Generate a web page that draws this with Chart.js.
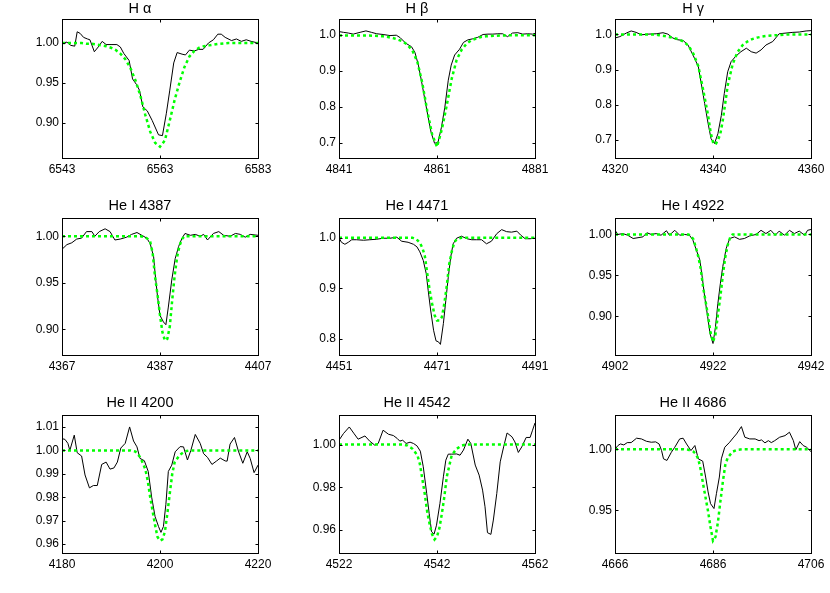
<!DOCTYPE html>
<html>
<head>
<meta charset="utf-8">
<script src="https://cdn.jsdelivr.net/npm/chart.js@4.4.1/dist/chart.umd.min.js"></script>
<style>
  body { margin: 0; background: #fff; }
  #wrap { position: relative; width: 830px; height: 593px; overflow: hidden; }
  #wrap canvas { position: absolute; }
</style>
</head>
<body>
<div id="wrap"></div>
<script>
// ---- H alpha ----
const haObsWl = [6543.0,6544.0,6544.8,6545.6,6546.1,6546.7,6547.4,6548.2,6548.7,6549.6,6550.4,6551.2,6552.0,6553.2,6554.2,6554.9,6555.6,6556.7,6557.4,6558.2,6558.8,6559.5,6560.4,6561.4,6562.7,6563.5,6564.3,6565.0,6565.8,6566.5,6567.5,6568.2,6569.0,6570.0,6570.9,6571.8,6572.9,6573.9,6574.8,6575.5,6576.3,6577.6,6578.6,6579.6,6580.6,6581.6,6583.0];
const haObsFlux = [1.000,1.001,0.997,0.996,1.014,1.012,1.007,1.005,1.004,0.989,0.995,1.002,0.998,0.998,0.998,0.995,0.987,0.978,0.955,0.948,0.941,0.920,0.915,0.903,0.885,0.884,0.912,0.941,0.975,0.988,0.986,0.985,0.991,0.990,0.992,0.992,1.000,1.004,1.011,1.011,1.007,1.003,1.005,1.002,1.004,1.002,1.000];
const haModWl = [6543,6545,6547,6548,6549,6550,6551,6552,6553,6554,6555,6556,6557,6558,6559,6560,6561,6562,6563,6564,6565,6566,6567,6568,6569,6570,6571,6572,6573,6574,6575,6577,6580,6583];
const haModFlux = [1.000,1.000,1.000,0.999,0.999,0.998,0.997,0.996,0.994,0.991,0.986,0.979,0.968,0.953,0.934,0.910,0.889,0.875,0.870,0.878,0.903,0.929,0.951,0.970,0.983,0.990,0.994,0.996,0.997,0.998,0.999,1.000,1.000,1.000];
const haXTicks = [6543, 6563, 6583];
const haYTicks = [0.90, 0.95, 1.00];
const haYRange = [0.856, 1.030];

// ---- H beta ----
const hbObsWl = [4841.0,4841.9,4842.9,4843.9,4845.3,4846.5,4847.6,4848.7,4850.0,4851.4,4852.7,4853.5,4854.6,4855.8,4856.5,4857.2,4857.8,4858.5,4859.2,4859.8,4860.5,4861.2,4861.9,4862.6,4863.3,4863.9,4864.6,4865.6,4866.4,4867.3,4868.3,4869.3,4870.4,4871.4,4872.4,4873.4,4874.4,4875.4,4876.4,4877.5,4878.5,4879.5,4880.5,4881.0];
const hbObsFlux = [1.009,1.007,1.005,1.002,1.007,1.011,1.007,1.003,1.001,0.998,0.999,0.992,0.977,0.967,0.951,0.916,0.874,0.822,0.771,0.729,0.699,0.701,0.743,0.799,0.874,0.916,0.944,0.960,0.979,0.986,0.989,0.993,1.001,1.002,1.002,1.003,1.003,0.995,1.005,1.006,1.002,1.003,1.002,1.004];
const hbModWl = [4841,4844,4847,4849,4850,4851,4852,4853,4854,4855,4856,4857,4858,4859,4860,4861,4862,4863,4864,4865,4866,4867,4868,4869,4870,4871,4872,4874,4877,4881];
const hbModFlux = [0.998,0.998,0.998,0.997,0.996,0.994,0.991,0.987,0.982,0.972,0.956,0.925,0.866,0.790,0.724,0.689,0.738,0.805,0.878,0.930,0.958,0.975,0.985,0.990,0.994,0.996,0.997,0.998,0.999,0.999];
const hbXTicks = [4841, 4861, 4881];
const hbYTicks = [0.7, 0.8, 0.9, 1.0];
const hbYRange = [0.658, 1.044];

// ---- H gamma ----
const hgObsWl = [4320.0,4321.0,4322.3,4323.3,4324.3,4325.4,4326.7,4328.4,4329.8,4330.8,4331.8,4332.8,4333.9,4334.9,4335.9,4337.0,4337.6,4338.3,4339.0,4339.6,4340.3,4341.0,4341.7,4342.3,4343.0,4343.7,4344.7,4345.7,4346.8,4347.8,4348.8,4349.8,4350.8,4352.2,4353.5,4354.9,4356.3,4357.6,4359.0,4360.0];
const hgObsFlux = [0.990,0.994,1.004,1.010,1.006,0.999,1.001,1.002,1.005,1.001,0.990,0.985,0.983,0.970,0.942,0.909,0.861,0.804,0.747,0.704,0.690,0.718,0.770,0.832,0.894,0.923,0.939,0.951,0.961,0.951,0.947,0.956,0.970,0.980,1.002,1.004,1.006,1.007,1.010,1.011];
const hgModWl = [4320,4324,4328,4329,4330,4331,4332,4333,4334,4335,4336,4337,4338,4339,4339.5,4340,4340.5,4341,4341.5,4342,4342.5,4343,4344,4345,4346,4347,4348,4349,4350,4351,4352,4353,4355,4360];
const hgModFlux = [1.000,1.000,1.000,0.998,0.996,0.993,0.990,0.986,0.980,0.968,0.945,0.910,0.842,0.770,0.723,0.694,0.687,0.700,0.718,0.756,0.805,0.855,0.915,0.950,0.969,0.980,0.987,0.991,0.994,0.996,0.997,0.998,1.000,1.000];
const hgXTicks = [4320, 4340, 4360];
const hgYTicks = [0.7, 0.8, 0.9, 1.0];
const hgYRange = [0.649, 1.044];

// ---- He I 4387 ----
const he4387ObsWl = [4367.0,4368.0,4369.0,4370.0,4371.0,4372.0,4373.1,4373.7,4374.6,4375.8,4376.8,4377.8,4378.9,4380.2,4381.2,4382.3,4383.3,4384.3,4385.0,4385.7,4386.0,4386.5,4387.0,4387.7,4388.2,4388.7,4389.4,4390.1,4390.8,4391.5,4392.1,4393.2,4394.2,4395.2,4395.9,4396.7,4397.9,4399.0,4400.0,4401.3,4402.4,4403.4,4404.4,4405.4,4407.0];
const he4387ObsFlux = [0.986,0.991,0.993,0.997,0.998,1.005,1.005,1.000,1.005,1.008,1.005,0.996,0.997,0.999,1.002,1.004,1.001,0.998,0.992,0.978,0.960,0.935,0.915,0.908,0.905,0.924,0.953,0.976,0.989,0.998,1.003,1.001,1.002,1.000,1.002,0.996,1.003,1.005,1.001,1.000,1.003,1.002,0.999,1.002,1.001];
const he4387ModWl = [4367,4375,4383,4384,4384.5,4385,4385.5,4386,4386.5,4387,4387.5,4388,4388.5,4389,4389.5,4390,4390.5,4391,4391.5,4392,4400,4407];
const he4387ModFlux = [1.000,1.000,1.000,0.999,0.997,0.994,0.982,0.956,0.937,0.915,0.897,0.888,0.890,0.903,0.932,0.958,0.978,0.990,0.997,1.000,1.000,1.000];
const he4387XTicks = [4367, 4387, 4407];
const he4387YTicks = [0.90, 0.95, 1.00];
const he4387YRange = [0.8725, 1.0196];

// ---- He I 4471 ----
const he4471ObsWl = [4451.0,4451.5,4452.2,4452.9,4453.6,4454.6,4456.0,4457.3,4458.7,4460.0,4461.4,4462.8,4463.8,4465.1,4466.2,4466.9,4467.5,4468.2,4468.8,4469.2,4469.7,4470.3,4470.8,4471.3,4471.7,4472.3,4472.8,4473.3,4473.8,4474.3,4475.0,4476.0,4477.1,4478.1,4479.1,4480.1,4481.1,4482.1,4483.2,4484.2,4485.2,4486.2,4487.3,4488.1,4489.0,4490.0,4491.0];
const he4471ObsFlux = [1.000,0.991,0.987,0.991,0.996,0.996,0.995,0.996,0.997,0.999,0.999,1.001,0.993,0.991,0.987,0.982,0.972,0.955,0.929,0.896,0.857,0.817,0.796,0.794,0.789,0.830,0.876,0.922,0.962,0.988,0.999,1.003,0.998,0.996,0.996,0.996,0.988,0.993,1.008,1.016,1.012,1.011,1.013,1.005,0.998,0.998,0.999];
const he4471ModWl = [4451,4460,4466,4466.5,4467,4467.5,4468,4468.5,4469,4469.5,4470,4470.5,4471,4471.5,4472,4472.5,4473,4473.5,4474,4474.5,4475,4476,4491];
const he4471ModFlux = [1.000,1.000,1.000,0.998,0.995,0.990,0.980,0.965,0.930,0.896,0.870,0.847,0.836,0.836,0.843,0.870,0.905,0.948,0.972,0.990,0.997,1.000,1.000];
const he4471XTicks = [4451, 4471, 4491];
const he4471YTicks = [0.8, 0.9, 1.0];
const he4471YRange = [0.768, 1.039];

// ---- He I 4922 ----
const he4922ObsWl = [4902.0,4902.6,4903.6,4904.6,4905.7,4906.7,4907.7,4908.5,4909.4,4910.4,4911.4,4912.5,4913.1,4914.2,4915.2,4916.2,4917.2,4917.9,4918.6,4919.3,4919.8,4920.3,4920.9,4921.4,4922.0,4922.5,4923.0,4923.5,4924.0,4924.7,4925.4,4926.4,4927.4,4928.4,4929.4,4930.8,4931.8,4932.8,4933.8,4934.7,4935.5,4936.6,4937.6,4938.6,4939.6,4940.7,4941.3,4942.0];
const he4922ObsFlux = [1.005,1.000,1.001,0.999,0.995,0.996,0.997,1.002,1.000,1.001,0.999,1.0045,0.999,1.005,0.999,1.000,0.999,0.993,0.981,0.969,0.948,0.924,0.900,0.879,0.867,0.887,0.916,0.940,0.961,0.983,0.995,0.997,0.994,0.995,0.998,1.000,1.005,1.001,1.005,0.999,1.004,0.999,1.005,1.001,1.004,0.999,1.005,1.006];
const he4922ModWl = [4902,4910,4917,4917.5,4918,4918.5,4919,4919.5,4920,4920.5,4921,4921.5,4922,4922.5,4923,4923.5,4924,4924.5,4925,4925.5,4926,4934,4942];
const he4922ModFlux = [1.000,1.000,1.000,0.998,0.994,0.984,0.973,0.958,0.935,0.918,0.900,0.880,0.869,0.878,0.902,0.924,0.950,0.972,0.987,0.996,1.000,1.000,1.000];
const he4922XTicks = [4902, 4922, 4942];
const he4922YTicks = [0.90, 0.95, 1.00];
const he4922YRange = [0.853, 1.020];

// ---- He II 4200 ----
const he4200ObsWl = [4180.0,4180.6,4181.2,4181.6,4182.5,4183.1,4184.0,4184.7,4185.6,4186.4,4187.2,4188.1,4189.0,4189.8,4190.6,4191.3,4192.0,4192.9,4193.8,4194.6,4195.3,4195.9,4196.8,4197.6,4198.3,4199.0,4199.7,4200.2,4200.7,4201.2,4201.7,4202.4,4203.1,4204.1,4204.8,4205.6,4206.3,4207.2,4208.2,4208.9,4209.7,4210.6,4211.5,4212.3,4213.3,4213.7,4214.3,4215.2,4216.0,4216.9,4217.8,4218.4,4219.2,4220.0];
const he4200ObsFlux = [1.0050,1.0047,1.0030,1.0000,1.0065,0.9990,0.9976,0.9895,0.9840,0.9850,0.9850,0.9940,0.9950,0.9920,0.9925,0.9950,1.0010,1.0030,1.0100,1.0040,1.0015,0.9966,0.9956,0.9910,0.9800,0.9717,0.9675,0.9650,0.9675,0.9770,0.9910,0.9937,0.9994,1.0016,1.0015,0.9959,1.0000,1.0068,1.0030,0.9986,0.9970,0.9940,0.9954,0.9967,0.9955,0.9954,1.0027,1.0055,0.9997,0.9945,0.9994,0.9966,0.9905,0.9937];
const he4200ModWl = [4180,4188,4194,4195,4196,4197,4197.5,4198,4198.5,4199,4199.5,4200,4200.5,4201,4201.5,4202,4202.5,4203,4204,4205,4206,4220];
const he4200ModFlux = [1.000,1.000,1.000,0.9995,0.997,0.992,0.987,0.980,0.974,0.968,0.963,0.9615,0.962,0.9653,0.973,0.9817,0.990,0.995,0.998,0.9995,1.000,1.000];
const he4200XTicks = [4180, 4200, 4220];
const he4200YTicks = [0.96, 0.97, 0.98, 0.99, 1.00, 1.01];
const he4200YRange = [0.9562, 1.0151];

// ---- He II 4542 ----
const he4542ObsWl = [4522.0,4522.9,4524.1,4525.1,4525.9,4527.3,4528.3,4529.3,4530.0,4531.0,4532.1,4533.1,4533.9,4534.4,4535.0,4535.7,4536.5,4537.2,4537.9,4538.6,4539.2,4539.9,4540.4,4540.9,4541.4,4541.9,4542.6,4543.3,4543.8,4544.3,4545.0,4546.0,4546.7,4547.4,4548.3,4548.9,4549.8,4550.6,4551.3,4551.8,4552.3,4553.0,4553.5,4554.2,4554.9,4555.6,4556.3,4557.3,4557.9,4558.6,4559.3,4560.2,4561.0,4561.5,4562.0];
const he4542ObsFlux = [1.0020,1.0051,1.0082,1.0050,1.0025,1.0040,1.0015,0.9997,1.0005,1.0067,1.0048,1.0042,1.0028,1.0016,1.0020,1.0005,1.0011,1.0005,0.9994,0.9969,0.9896,0.9771,0.9678,0.9592,0.9581,0.9623,0.9725,0.9849,0.9927,0.9955,0.9955,0.9956,0.9950,0.9974,1.0025,1.0005,0.9904,0.9857,0.9787,0.9709,0.9588,0.9580,0.9647,0.9771,0.9919,0.9989,1.0054,1.0036,1.0012,0.9963,0.9989,1.0033,1.0033,1.0067,1.0101];
const he4542ModWl = [4522,4530,4535,4536,4537,4538,4538.5,4539,4539.5,4540,4540.5,4541,4541.5,4542,4542.5,4543,4543.5,4544,4544.5,4545,4546,4547,4548,4562];
const he4542ModFlux = [1.000,1.000,1.000,0.9995,0.998,0.995,0.991,0.984,0.977,0.9686,0.9628,0.958,0.9556,0.957,0.961,0.9678,0.9756,0.985,0.990,0.995,0.998,0.9995,1.000,1.000];
const he4542XTicks = [4522, 4542, 4562];
const he4542YTicks = [0.96, 0.98, 1.00];
const he4542YRange = [0.9493, 1.0138];

// ---- He II 4686 ----
const he4686ObsWl = [4666.0,4666.6,4667.1,4667.8,4668.5,4669.3,4670.4,4671.4,4672.4,4673.4,4674.3,4675.0,4675.5,4675.9,4676.6,4677.5,4678.2,4679.2,4679.9,4680.6,4681.5,4682.3,4683.0,4683.9,4684.5,4685.0,4685.5,4686.2,4686.7,4687.3,4687.7,4688.4,4689.4,4690.1,4690.8,4691.8,4692.5,4693.5,4694.6,4695.4,4695.9,4696.6,4697.3,4697.9,4698.6,4699.6,4700.7,4701.6,4702.4,4702.9,4703.7,4704.4,4705.1,4706.0];
const he4686ObsFlux = [1.0000,1.0030,1.0043,1.0035,1.0054,1.0054,1.0090,1.0084,1.0065,1.0057,1.0060,1.0043,0.9989,0.9921,0.9908,0.9975,1.0016,1.0084,1.0090,1.0043,0.9989,1.0030,0.9921,0.9902,0.9772,0.9650,0.9554,0.9514,0.9636,0.9772,0.9921,1.0016,1.0057,1.0092,1.0125,1.0185,1.0098,1.0084,1.0084,1.0070,1.0076,1.0052,1.0070,1.0054,1.0070,1.0098,1.0111,1.0139,1.0070,0.9995,1.0062,1.0030,1.0016,0.9980];
const he4686ModWl = [4666,4675,4680,4681,4682,4682.5,4683,4683.5,4684,4684.5,4685,4685.5,4686,4686.5,4687,4687.5,4688,4688.5,4689,4690,4691,4692,4706];
const he4686ModFlux = [1.000,1.000,1.000,0.9995,0.998,0.996,0.992,0.983,0.971,0.960,0.949,0.936,0.925,0.928,0.940,0.957,0.973,0.987,0.993,0.998,0.9995,1.000,1.000];
const he4686XTicks = [4666, 4686, 4706];
const he4686YTicks = [0.95, 1.00];
const he4686YRange = [0.915, 1.028];

// layout of the 3x3 grid (page pixels of each plot frame)
const FONT = "'Liberation Sans', Arial, Helvetica, sans-serif";
const YW = 40, PAD_R = 18, XH = 24, PLOT_W = 196, TICK_LEN = 3;
const TITLE_SIZE = 14.5;
const colLeft = [62, 339, 615];
const rowTop = [19, 218, 415];
const rowPlotH = [139, 137, 138];
const rowTitleH = [18, 20, 20];

const panels = [
  { title: 'H α', ow: haObsWl, of: haObsFlux, mw: haModWl, mf: haModFlux, xt: haXTicks, yt: haYTicks, yr: haYRange, dec: 2 },
  { title: 'H β', ow: hbObsWl, of: hbObsFlux, mw: hbModWl, mf: hbModFlux, xt: hbXTicks, yt: hbYTicks, yr: hbYRange, dec: 1 },
  { title: 'H γ', ow: hgObsWl, of: hgObsFlux, mw: hgModWl, mf: hgModFlux, xt: hgXTicks, yt: hgYTicks, yr: hgYRange, dec: 1 },
  { title: 'He I 4387', ow: he4387ObsWl, of: he4387ObsFlux, mw: he4387ModWl, mf: he4387ModFlux, xt: he4387XTicks, yt: he4387YTicks, yr: he4387YRange, dec: 2 },
  { title: 'He I 4471', ow: he4471ObsWl, of: he4471ObsFlux, mw: he4471ModWl, mf: he4471ModFlux, xt: he4471XTicks, yt: he4471YTicks, yr: he4471YRange, dec: 1 },
  { title: 'He I 4922', ow: he4922ObsWl, of: he4922ObsFlux, mw: he4922ModWl, mf: he4922ModFlux, xt: he4922XTicks, yt: he4922YTicks, yr: he4922YRange, dec: 2 },
  { title: 'He II 4200', ow: he4200ObsWl, of: he4200ObsFlux, mw: he4200ModWl, mf: he4200ModFlux, xt: he4200XTicks, yt: he4200YTicks, yr: he4200YRange, dec: 2 },
  { title: 'He II 4542', ow: he4542ObsWl, of: he4542ObsFlux, mw: he4542ModWl, mf: he4542ModFlux, xt: he4542XTicks, yt: he4542YTicks, yr: he4542YRange, dec: 2 },
  { title: 'He II 4686', ow: he4686ObsWl, of: he4686ObsFlux, mw: he4686ModWl, mf: he4686ModFlux, xt: he4686XTicks, yt: he4686YTicks, yr: he4686YRange, dec: 2 }
];

function pts(xs, ys) {
  return xs.map((x, i) => ({ x: x, y: ys[i] }));
}

// box round the plot with inward ticks on all four sides
const framePlugin = {
  id: 'frame',
  afterDraw(chart) {
    const { ctx, chartArea: a, scales } = chart;
    const L = Math.round(a.left) + 0.5, R = Math.round(a.right) + 0.5;
    const T = Math.round(a.top) + 0.5, B = Math.round(a.bottom) + 0.5;
    ctx.save();
    ctx.strokeStyle = '#000';
    ctx.lineWidth = 1;
    ctx.strokeRect(L, T, R - L, B - T);
    ctx.beginPath();
    scales.x.ticks.forEach(t => {
      const px = Math.round(scales.x.getPixelForValue(t.value)) + 0.5;
      ctx.moveTo(px, B); ctx.lineTo(px, B - TICK_LEN);
      ctx.moveTo(px, T); ctx.lineTo(px, T + TICK_LEN);
    });
    scales.y.ticks.forEach(t => {
      const py = Math.round(scales.y.getPixelForValue(t.value)) + 0.5;
      ctx.moveTo(L, py); ctx.lineTo(L + TICK_LEN, py);
      ctx.moveTo(R, py); ctx.lineTo(R - TICK_LEN, py);
    });
    ctx.stroke();
    ctx.restore();
  }
};

const wrap = document.getElementById('wrap');

panels.forEach((p, i) => {
  const col = i % 3, row = Math.floor(i / 3);
  const titleH = rowTitleH[row];
  const plotH = rowPlotH[row];
  const w = YW + PLOT_W + PAD_R;
  const h = titleH + plotH + XH;

  const canvas = document.createElement('canvas');
  canvas.width = w;
  canvas.height = h;
  canvas.style.width = w + 'px';
  canvas.style.height = h + 'px';
  canvas.style.left = (colLeft[col] - YW) + 'px';
  canvas.style.top = (rowTop[row] - titleH) + 'px';
  wrap.appendChild(canvas);

  new Chart(canvas, {
    type: 'line',
    data: {
      datasets: [
        {
          label: 'model',
          data: pts(p.mw, p.mf),
          borderColor: '#00ff00',
          borderWidth: 2.5,
          borderDash: [3, 3],
          pointRadius: 0,
          tension: 0,
          order: 0
        },
        {
          label: 'observed',
          data: pts(p.ow, p.of),
          borderColor: '#000000',
          borderWidth: 1,
          pointRadius: 0,
          tension: 0,
          order: 1
        }
      ]
    },
    options: {
      responsive: false,
      animation: false,
      devicePixelRatio: 1,
      layout: { padding: { left: 0, right: PAD_R, top: 0, bottom: 0 } },
      plugins: {
        legend: { display: false },
        tooltip: { enabled: false },
        title: {
          display: true,
          text: p.title,
          color: '#000',
          font: { family: FONT, size: TITLE_SIZE, weight: 'normal', lineHeight: 1.1 },
          padding: { top: 0, bottom: titleH - TITLE_SIZE * 1.1 }
        }
      },
      scales: {
        x: {
          type: 'linear',
          min: p.xt[0],
          max: p.xt[p.xt.length - 1],
          grid: { display: false, drawTicks: false },
          border: { display: false },
          ticks: {
            autoSkip: false,
            maxRotation: 0,
            padding: 4,
            color: '#000',
            font: { family: FONT, size: 12 },
            callback: v => String(v)
          },
          afterBuildTicks: s => { s.ticks = p.xt.map(v => ({ value: v })); },
          afterFit: s => { s.height = XH; s.paddingLeft = 0; s.paddingRight = 0; }
        },
        y: {
          type: 'linear',
          min: p.yr[0],
          max: p.yr[1],
          grid: { display: false, drawTicks: false },
          border: { display: false },
          ticks: {
            padding: 3,
            color: '#000',
            font: { family: FONT, size: 12 },
            callback: v => Number(v).toFixed(p.dec)
          },
          afterBuildTicks: s => { s.ticks = p.yt.map(v => ({ value: v })); },
          afterFit: s => { s.width = YW; s.paddingTop = 0; s.paddingBottom = 0; }
        }
      }
    },
    plugins: [framePlugin]
  });
});
</script>
</body>
</html>
